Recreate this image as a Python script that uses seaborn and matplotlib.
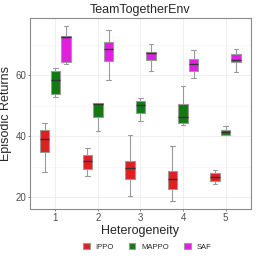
import seaborn as sns
import pandas as pd
import matplotlib.pyplot as plt
from matplotlib.ticker import MultipleLocator

# five-number summaries (whisker low, q1, median, q3, whisker high)
heterogeneity = ["1", "2", "3", "4", "5"]
algorithms = ["IPPO", "MAPPO", "SAF"]

ippo = [
    [28.1, 34.8, 38.9, 42.1, 44.2],
    [26.9, 29.3, 31.7, 33.9, 36.2],
    [20.4, 25.8, 29.5, 31.7, 40.3],
    [18.8, 22.5, 25.8, 28.4, 36.8],
    [24.2, 25.4, 26.7, 27.8, 28.9],
]
mappo = [
    [52.7, 53.8, 58.4, 61.3, 62.2],
    [41.7, 46.1, 50.6, 50.8, 50.9],
    [45.0, 47.6, 50.3, 51.5, 52.6],
    [43.7, 44.3, 46.3, 50.4, 56.4],
    [40.2, 40.4, 41.5, 42.0, 43.2],
]
saf = [
    [63.8, 64.2, 72.4, 72.9, 76.1],
    [58.4, 64.7, 68.6, 71.0, 74.8],
    [61.2, 64.8, 67.1, 67.6, 70.2],
    [59.1, 61.4, 63.7, 65.3, 68.2],
    [60.9, 64.2, 64.8, 67.0, 68.7],
]
colors = ["#FF0000", "#008B00", "#FF00FF"]

rows = []
for algo, series in zip(algorithms, [ippo, mappo, saf]):
    for het, vals in zip(heterogeneity, series):
        for v in vals:
            rows.append({"Heterogeneity": het, "algorithm": algo, "Episodic Returns": v})
df = pd.DataFrame(rows)

sns.set_style("white")
plt.rcParams["font.family"] = ["Liberation Sans", "DejaVu Sans"]

fig = plt.figure(figsize=(2.58, 2.58), dpi=100)
ax = fig.add_axes([0.116, 0.19, 0.857, 0.74])

sns.boxplot(data=df, x="Heterogeneity", y="Episodic Returns", hue="algorithm",
            order=heterogeneity, hue_order=algorithms, palette=colors,
            width=0.75, gap=0.12, whis=(0, 100), linewidth=0.8,
            linecolor="#9a9a9a", medianprops=dict(color="#333333", linewidth=1.0),
            ax=ax)

ax.set_ylim(16.1, 78.7)
ax.set_xlim(-0.6, 4.6)
ax.yaxis.set_major_locator(MultipleLocator(20))
ax.yaxis.set_minor_locator(MultipleLocator(10))
ax.grid(True, which="major", color="#EBEBEB", linewidth=0.6)
ax.grid(True, which="minor", axis="y", color="#F4F4F4", linewidth=0.4)
ax.set_axisbelow(True)
for s in ax.spines.values():
    s.set_color("#8a8a8a")
    s.set_linewidth(0.8)
ax.tick_params(axis="both", which="major", labelsize=7, labelcolor="#4D4D4D",
               color="#4D4D4D", length=1.6, width=0.5, pad=1.0, left=True, bottom=True)
ax.tick_params(axis="y", which="minor", length=0)
ax.set_title("TeamTogetherEnv", fontsize=9, pad=4)
ax.set_xlabel("Heterogeneity", fontsize=9, labelpad=2)
ax.set_ylabel("Episodic Returns", fontsize=9, labelpad=2.5)

handles, labels = ax.get_legend_handles_labels()
ax.get_legend().remove()
fig.legend(handles, labels, loc="center", bbox_to_anchor=(0.57, 0.043), ncol=3,
           frameon=False, fontsize=5.5, handlelength=0.9, handleheight=0.8,
           columnspacing=1.9, handletextpad=0.8)

fig.savefig("out.png", dpi=100)
